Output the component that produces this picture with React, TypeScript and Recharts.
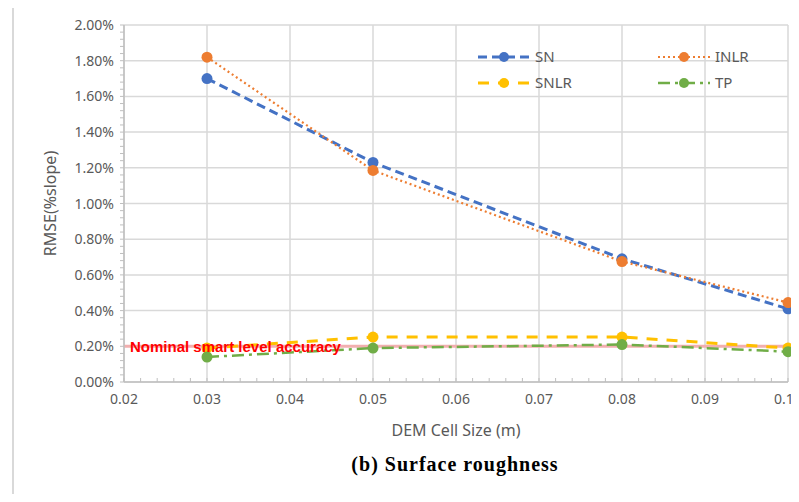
import React from "react";
import {
  LineChart,
  Line,
  XAxis,
  YAxis,
  CartesianGrid,
  ReferenceLine,
  Legend,
} from "recharts";

// DEM cell sizes (m) and RMSE (% slope) per method
const cellSizes = [0.03, 0.05, 0.08, 0.1];
const sn = [1.7, 1.23, 0.69, 0.41];
const inlr = [1.82, 1.185, 0.675, 0.445];
const snlr = [0.19, 0.252, 0.252, 0.19];
const tp = [0.14, 0.19, 0.21, 0.17];

const xTicks = [0.02, 0.03, 0.04, 0.05, 0.06, 0.07, 0.08, 0.09, 0.1];
const yTicks = [0, 0.2, 0.4, 0.6, 0.8, 1.0, 1.2, 1.4, 1.6, 1.8, 2.0];
const nominalAccuracy = 0.2;

// minor tick marks along both axes
const xMinor = Array.from({ length: 41 }, (_, i) => +(0.02 + i * 0.002).toFixed(3));
const yMinor = Array.from({ length: 51 }, (_, i) => +(i * 0.04).toFixed(2));

const data = cellSizes.map((x, i) => ({
  x,
  SN: sn[i],
  INLR: inlr[i],
  SNLR: snlr[i],
  TP: tp[i],
}));

const series = [
  { key: "SN", color: "#4472C4", dash: "9 5", width: 3 },
  { key: "INLR", color: "#ED7D31", dash: "2 3", width: 2.2 },
  { key: "SNLR", color: "#FFC000", dash: "11 9", width: 3 },
  { key: "TP", color: "#70AD47", dash: "12 5 3 5", width: 2.5 },
];

const axisFont = "'Noto Sans', 'Liberation Sans', sans-serif";
const TICK_GAP = 8;
const isMajor = (v: number, list: number[]) => list.some((t) => Math.abs(t - v) < 1e-9);

function XTick(props: any) {
  const { x, y, payload } = props;
  const axisY = y - TICK_GAP;
  const major = isMajor(payload.value, xTicks);
  return (
    <g>
      <line x1={x} x2={x} y1={axisY} y2={axisY - 4} stroke="#BFBFBF" strokeWidth={1} />
      {major && (
        <text
          x={x}
          y={y}
          dy={14}
          textAnchor="middle"
          fontSize={14}
          fill="#595959"
          fontFamily={axisFont}
        >
          {payload.value.toFixed(2)}
        </text>
      )}
    </g>
  );
}

function YTick(props: any) {
  const { x, y, payload } = props;
  const axisX = x + TICK_GAP;
  const major = isMajor(payload.value, yTicks);
  return (
    <g>
      <line x1={axisX} x2={axisX - 4} y1={y} y2={y} stroke="#BFBFBF" strokeWidth={1} />
      {major && (
        <text
          x={x - 2}
          y={y}
          dy={5}
          textAnchor="end"
          fontSize={14}
          fill="#595959"
          fontFamily={axisFont}
        >
          {`${payload.value.toFixed(2)}%`}
        </text>
      )}
    </g>
  );
}

function LegendBox() {
  const items = [
    { s: series[0], x: 478, y: 57 },
    { s: series[1], x: 658, y: 57 },
    { s: series[2], x: 478, y: 83 },
    { s: series[3], x: 658, y: 83 },
  ];
  return (
    <svg
      width={799}
      height={110}
      style={{ position: "absolute", left: 0, top: 0, pointerEvents: "none" }}
    >
      {items.map(({ s, x, y }) => (
        <g key={s.key}>
          <line
            x1={x}
            x2={x + 52}
            y1={y}
            y2={y}
            stroke={s.color}
            strokeWidth={s.width}
            strokeDasharray={s.dash}
          />
          <circle cx={x + 26} cy={y} r={5} fill={s.color} />
          <text x={x + 57} y={y + 5} fontSize={15} fill="#595959" fontFamily={axisFont}>
            {s.key}
          </text>
        </g>
      ))}
    </svg>
  );
}

export default function App() {
  return (
    <div
      style={{
        position: "relative",
        width: 799,
        height: 502,
        margin: -8,
        overflow: "hidden",
        background: "#fff",
      }}
    >
      <div
        style={{
          position: "absolute",
          left: 12,
          top: 3,
          width: 820,
          height: 540,
          border: "2px solid #D9D9D9",
        }}
      />
      <LineChart
        width={799}
        height={502}
        data={data}
        margin={{ top: 25, right: 11, left: 54, bottom: 90 }}
      >
        <CartesianGrid
          stroke="#D9D9D9"
          strokeWidth={1.5}
          horizontalValues={yTicks}
          verticalValues={xTicks}
        />
        <XAxis
          dataKey="x"
          type="number"
          domain={[0.02, 0.1]}
          ticks={xMinor}
          interval={0}
          tick={<XTick />}
          tickSize={0}
          tickMargin={TICK_GAP}
          tickLine={false}
          axisLine={{ stroke: "#BFBFBF", strokeWidth: 1.5 }}
          height={30}
          label={{
            value: "DEM Cell Size (m)",
            position: "insideBottom",
            offset: -24,
            style: { fontSize: 16, fill: "#595959", fontFamily: axisFont },
          }}
        />
        <YAxis
          type="number"
          domain={[0, 2]}
          ticks={yMinor}
          interval={0}
          tick={<YTick />}
          tickSize={0}
          tickMargin={TICK_GAP}
          tickLine={false}
          axisLine={{ stroke: "#BFBFBF", strokeWidth: 1.5 }}
          width={70}
          label={{
            value: "RMSE(%slope)",
            angle: -90,
            position: "insideLeft",
            offset: -4,
            style: {
              fontSize: 16,
              fill: "#595959",
              fontFamily: axisFont,
              textAnchor: "middle",
            },
          }}
        />
        <ReferenceLine
          y={nominalAccuracy}
          stroke="#F2AFAF"
          strokeWidth={3}
          label={{
            value: "Nominal smart level accuracy",
            position: "insideLeft",
            offset: 6,
            style: {
              fontSize: 15,
              fontWeight: 700,
              fill: "#FF0000",
              fontFamily: "'Liberation Sans', Arial, sans-serif",
            },
          }}
        />
        {series.map((s) => (
          <Line
            key={s.key}
            dataKey={s.key}
            type="linear"
            stroke={s.color}
            strokeWidth={s.width}
            strokeDasharray={s.dash}
            dot={{ r: 5.5, fill: s.color, stroke: s.color, strokeWidth: 0, strokeDasharray: "" }}
            isAnimationActive={false}
          />
        ))}
        <Legend content={() => <LegendBox />} wrapperStyle={{ position: "absolute", left: 0, top: 0 }} />
      </LineChart>
      <div
        style={{
          position: "absolute",
          left: 0,
          width: 910,
          top: 453,
          textAlign: "center",
          fontFamily: "'Liberation Serif', 'Times New Roman', serif",
          fontWeight: 700,
          fontSize: 20,
          letterSpacing: 1,
          color: "#000",
        }}
      >
        (b) Surface roughness
      </div>
    </div>
  );
}
